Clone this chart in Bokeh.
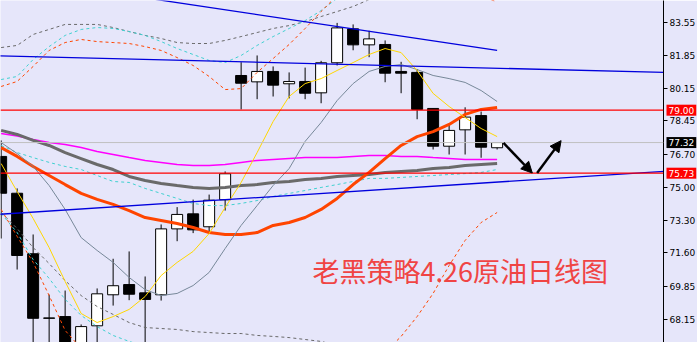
from bokeh.plotting import figure
from bokeh.models import (Range1d, FixedTicker, PrintfTickFormatter, Label, Arrow,
                          NormalHead, ColumnDataSource, Span)
from bokeh.embed import file_html
from bokeh.resources import INLINE

# ---------------- data ----------------
bar_index = list(range(32))
opens = [76.60, 74.69, 71.55, 68.22, 68.29, 66.53, 67.81, 69.42, 69.95, 69.52, 69.42, 72.84, 73.62, 72.95, 74.35, 80.80,
         80.47, 81.01, 80.37, 80.49, 79.90, 81.46, 83.22, 82.39, 82.41, 81.01, 80.96, 79.09, 77.13, 77.98, 78.72, 77.05]
highs = [77.43, 74.94, 72.55, 69.43, 69.64, 67.88, 69.75, 71.29, 71.67, 70.37, 73.07, 73.97, 74.36, 74.62, 75.82, 81.49,
         81.84, 81.27, 80.96, 81.21, 81.56, 83.53, 83.45, 83.12, 82.62, 81.51, 81.13, 79.10, 78.26, 79.15, 78.93, 77.34]
lows = [72.34, 70.73, 66.01, 66.11, 65.91, 66.22, 66.53, 68.86, 69.14, 66.53, 69.12, 72.20, 72.62, 72.60, 73.79, 79.04,
        79.57, 79.71, 79.61, 79.57, 79.36, 81.32, 82.11, 81.75, 80.45, 79.88, 78.53, 76.96, 76.70, 76.70, 76.53, 76.96]
closes = [74.69, 71.46, 68.20, 68.20, 66.43, 67.77, 69.47, 69.89, 69.45, 69.18, 72.84, 73.59, 72.79, 74.33, 75.70, 80.40,
          81.01, 80.30, 80.49, 79.88, 81.46, 83.27, 82.39, 82.70, 80.92, 80.92, 79.04, 77.13, 77.95, 78.64, 77.08, 77.32]

ma_yellow = [76.23, 74.78, 73.38, 71.87, 70.11, 68.45, 67.98, 68.29, 68.66, 69.33, 70.42, 71.10, 71.67, 72.60, 73.95, 75.25,
             76.80, 78.41, 79.71, 80.38, 80.64, 81.06, 81.47, 81.89, 82.20, 81.99, 81.06, 79.87, 79.19, 78.62, 78.05, 77.63]
ma_slate = [77.32, 76.75, 76.08, 75.09, 73.85, 72.39, 71.72, 71.10, 70.32, 69.69, 69.38, 69.49, 69.90, 70.58, 71.82, 73.02,
            74.05, 75.09, 75.97, 77.38, 78.36, 79.50, 80.38, 81.01, 81.27, 81.37, 81.11, 80.80, 80.64, 80.44, 80.02, 79.45]
ma_orange = [77.06, 76.60, 76.08, 75.61, 75.14, 74.68, 74.37, 74.11, 73.79, 73.43, 73.28, 73.12, 72.91, 72.65, 72.55, 72.55,
             72.65, 73.02, 73.17, 73.43, 73.85, 74.42, 75.14, 75.77, 76.49, 77.17, 77.63, 77.89, 78.26, 78.78, 79.04, 79.14]
ma_dimgrey = [77.95, 77.74, 77.43, 77.17, 76.80, 76.49, 76.18, 75.92, 75.56, 75.35, 75.20, 75.09, 74.99, 74.94, 74.99, 75.09,
              75.14, 75.25, 75.30, 75.40, 75.46, 75.56, 75.61, 75.66, 75.77, 75.82, 75.87, 75.97, 76.03, 76.13, 76.18, 76.23]
ma_magenta = [77.79, 77.66, 77.48, 77.32, 77.22, 77.06, 76.86, 76.70, 76.54, 76.39, 76.29, 76.18, 76.13, 76.13, 76.18, 76.29,
              76.39, 76.44, 76.49, 76.54, 76.54, 76.54, 76.60, 76.65, 76.65, 76.60, 76.60, 76.54, 76.49, 76.44, 76.44, 76.44]
cyan_mid = [77.17, 76.80, 76.54, 76.29, 76.08, 75.92, 75.61, 75.30, 75.25, 74.94, 74.68, 74.42, 74.16, 74.05, 74.05, 74.16,
            74.31, 74.52, 74.68, 74.83, 74.99, 75.14, 75.30, 75.46, 75.46, 75.51, 75.56, 75.61, 75.66, 75.71, 75.77, 75.92]
grey_upper = [82.25, 82.36, 82.93, 83.19, 83.45, 83.45, 83.45, 83.29, 83.08, 82.88, 82.72, 82.51, 82.46, 82.46, 82.62, 82.82,
              83.03, 83.24, 83.39, 83.60, 83.86, 84.12, 84.38, 84.74, 85.06, 85.31, 85.52, 85.68, 85.78, 85.83, 85.83, 85.83]
grey_lower = [73.69, 72.86, 71.87, 71.04, 70.16, 69.38, 68.81, 68.40, 67.98, 67.72, 67.67, 67.62, 67.51, 67.46, 67.41, 67.41,
              67.31, 67.26, 67.20, 67.10, 67.00, 66.79, 66.63, 66.43, 66.22, 66.01, 65.80, 65.59, 65.44, 65.34, 65.23, 65.18]
cyan_upper = [80.59, 80.75, 81.63, 82.30, 82.88, 83.19, 83.29, 83.24, 83.08, 82.88, 82.56, 82.20, 81.89, 81.58, 81.47, 81.84,
              82.36, 82.82, 83.24, 83.65, 84.17, 84.80, 85.21, 85.52, 85.73, 85.89, 85.99, 86.09, 86.15, 86.15, 86.15, 86.15]
cyan_lower = [73.64, 72.65, 71.25, 70.27, 69.18, 68.35, 67.77, 67.31, 67.00, 66.74, 66.43, 66.22, 66.11, 66.11, 66.22, 66.43,
              66.27, 66.11, 65.91, 65.70, 65.39, 65.08, 64.77, 64.56, 64.45, 64.35, 64.35, 64.45, 64.56, 64.66, 64.77, 64.97]
orange_upper = [80.23, 80.49, 81.27, 82.10, 82.51, 82.67, 82.56, 82.51, 82.46, 82.30, 82.10, 81.73, 81.32, 80.75, 80.07, 80.12,
                80.96, 81.68, 82.41, 83.24, 84.12, 84.95, 85.47, 85.83, 85.99, 85.99, 85.83, 85.63, 85.31, 85.06, 84.85, 84.64]
orange_lower = [73.85, 72.45, 71.10, 69.38, 67.57, 66.63, 66.01, 65.70, 65.39, 65.18, 64.71, 64.35, 64.35, 64.56, 65.08, 64.97,
                64.45, 64.19, 63.93, 63.67, 63.67, 63.93, 64.71, 65.49, 66.43, 67.26, 68.29, 69.49, 70.94, 72.24, 73.17, 73.69]

trend_top_x, trend_top_y = [9.0, 31.0], [84.83, 82.10]
trend_mid_x, trend_mid_y = [-1.0, 42.0], [81.84, 80.95]
trend_low_x, trend_low_y = [-1.0, 42.0], [73.55, 75.86]
red_levels = [79.00, 75.73]
last_price = 77.32
arrows = [(31.4, 77.30, 33.2, 75.74), (33.5, 75.74, 35.0, 77.42)]
axis_ticks = [83.55, 81.85, 80.15, 78.45, 76.70, 75.00, 73.30, 71.60, 69.85, 68.15]
title_text = "老黑策略4.26原油日线图"
title_pos = (19.46, 70.68)

# ---------------- figure ----------------
BG = "#E6E6FA"
p = figure(frame_width=663, frame_height=342, x_range=Range1d(-0.04, 41.4), y_range=Range1d(66.944, 84.692),
           output_backend="svg", toolbar_location=None, x_axis_location=None, y_axis_location="right",
           background_fill_color=BG, border_fill_color=BG, outline_line_color=None)
p.min_border = 0
p.min_border_right = 34
p.grid.visible = False

ax = p.yaxis[0]
ax.ticker = FixedTicker(ticks=axis_ticks)
ax.formatter = PrintfTickFormatter(format="%.2f")
ax.major_tick_out = 4
ax.major_tick_in = 0
ax.minor_tick_line_color = None
ax.major_label_standoff = 2
ax.major_label_text_font = "DejaVu Sans"
ax.major_label_text_font_size = "9px"
ax.major_label_text_color = "black"
ax.axis_line_color = "black"
ax.major_tick_line_color = "black"

# candles
body_top = [max(o, c) for o, c in zip(opens, closes)]
body_bot = [min(o, c) for o, c in zip(opens, closes)]
body_col = ["white" if c >= o else "black" for o, c in zip(opens, closes)]
src = ColumnDataSource(dict(x=bar_index, high=highs, low=lows, top=body_top, bottom=body_bot, col=body_col))
p.segment(x0="x", y0="high", x1="x", y1="low", source=src, line_color="black", line_width=1)
p.vbar(x="x", top="top", bottom="bottom", width=0.6875, source=src, fill_color="col", line_color="black", line_width=1)

# bands (dotted)
for ser, col in [(grey_upper, "#696969"), (grey_lower, "#696969"),
                 (cyan_upper, "#40D0D0"), (cyan_lower, "#40D0D0"), (cyan_mid, "#40D0D0"),
                 (orange_upper, "#FF4500"), (orange_lower, "#FF4500")]:
    p.line(bar_index, ser, line_color=col, line_width=1, line_dash="3 3")

# moving averages
p.line(bar_index, ma_magenta, line_color="#FF00FF", line_width=1.5)
p.line(bar_index, ma_dimgrey, line_color="#6A6A6A", line_width=3)
p.line(bar_index, ma_orange, line_color="#FF4500", line_width=3)
p.line(bar_index, ma_slate, line_color="#778899", line_width=1)
p.line(bar_index, ma_yellow, line_color="#FFD700", line_width=1)

# trend lines and levels
for tx, ty in [(trend_top_x, trend_top_y), (trend_mid_x, trend_mid_y), (trend_low_x, trend_low_y)]:
    p.line(tx, ty, line_color="#0000DD", line_width=1.3)
for lv in red_levels:
    p.add_layout(Span(location=lv, dimension="width", line_color="#FF0000", line_width=1.3))
p.add_layout(Span(location=last_price, dimension="width", line_color="#C0C0C0", line_width=1))

for x0, y0, x1, y1 in arrows:
    p.add_layout(Arrow(end=NormalHead(size=11, fill_color="black", line_color="black"),
                       x_start=x0, y_start=y0, x_end=x1, y_end=y1, line_width=2.5, line_color="black"))

# title text
p.add_layout(Label(x=title_pos[0], y=title_pos[1], text=title_text, text_font="Noto Sans CJK SC",
                   text_font_size="27px", text_color="#F04444", text_baseline="middle", text_align="left"))

# price tags on the axis (placed in the side panel so they are not clipped to the frame)
for lv, bg in [(red_levels[0], "#FF0000"), (last_price, "black"), (red_levels[1], "#FF0000")]:
    p.add_layout(Label(x=666, y=lv, x_units="canvas", text="%.2f" % lv, text_font="DejaVu Sans",
                       text_font_size="9px", text_color="white", text_baseline="middle", text_align="left",
                       background_fill_color=bg, padding=2), "right")

open("out.html", "w").write(file_html(p, INLINE))
